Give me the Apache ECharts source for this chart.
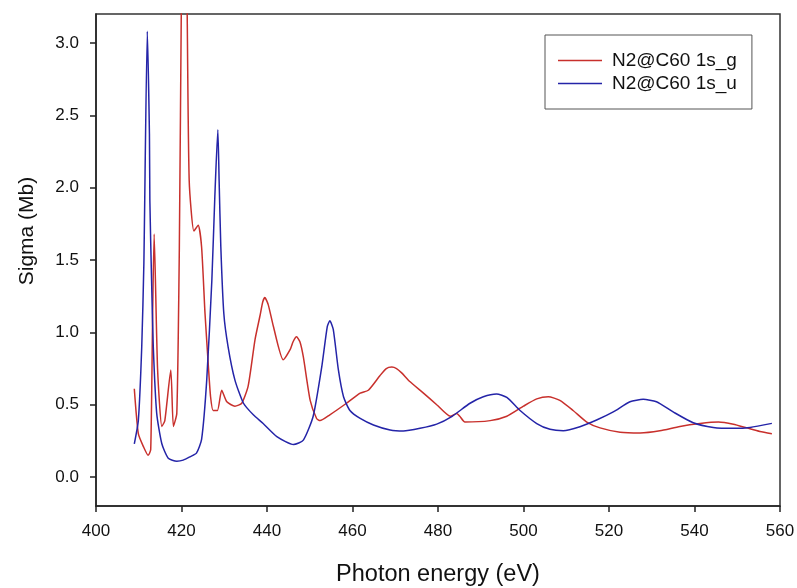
<!DOCTYPE html>
<html>
<head>
<meta charset="utf-8">
<script src="https://cdn.jsdelivr.net/npm/echarts@6/dist/echarts.min.js"></script>
<style>
html,body{margin:0;padding:0;background:#fff;}
#chart{width:797px;height:588px;}
</style>
</head>
<body>
<div id="chart"></div>
<script>
// ---- data ----
const seriesNames = ['N2@C60 1s_g', 'N2@C60 1s_u'];

const energyG = [408.96,409.9,411.1,412.2,412.8,413.25,413.6,414.4,415.4,416.1,417.5,418.1,418.9,419.5,420.0,420.6,421.3,421.8,422.9,423.9,424.7,425.5,426.3,426.8,427.4,428.4,429.4,430.6,432.5,434.1,435.6,437.2,438.4,439.0,439.5,440.3,441.5,443.8,445.4,446.1,446.9,447.7,448.5,450.1,451.6,452.4,454.7,458.6,461.8,463.7,466.4,467.9,469.2,470.3,471.5,473.4,476.6,479.7,482.9,484.4,485.1,486.3,492.2,496.1,500.0,503.1,505.8,508.5,511.6,514.8,517.9,522.6,527.3,531.9,536.6,541.3,545.6,549.1,552.2,555.3,558.1];
const sigmaG  = [0.61,0.30,0.21,0.15,0.19,1.13,1.68,0.75,0.35,0.39,0.74,0.35,0.44,1.6,3.4,5.0,3.3,2.05,1.70,1.74,1.59,1.13,0.76,0.555,0.46,0.46,0.60,0.52,0.49,0.51,0.63,0.95,1.12,1.21,1.24,1.19,1.04,0.81,0.88,0.935,0.97,0.935,0.83,0.53,0.405,0.39,0.43,0.51,0.58,0.60,0.70,0.75,0.76,0.75,0.72,0.66,0.58,0.50,0.42,0.44,0.42,0.38,0.39,0.42,0.49,0.54,0.555,0.53,0.46,0.38,0.34,0.31,0.305,0.32,0.35,0.37,0.38,0.365,0.34,0.315,0.30];

const energyU = [408.96,409.9,410.7,411.2,412.0,412.5,412.6,413.0,413.4,414.2,415.4,416.9,418.9,420.4,422.0,423.5,424.7,425.9,427.1,427.8,428.5,428.8,429.2,429.9,430.9,432.5,434.5,436.8,439.1,442.3,446.2,448.5,450.8,452.8,454.1,454.7,455.5,456.7,457.9,459.4,461.8,464.9,468.8,471.9,475.8,479.7,483.3,487.5,490.6,493.7,496.1,499.2,503.1,506.2,509.3,513.2,517.1,521.0,524.9,528.0,531.1,535.0,539.7,544.4,549.1,553.0,558.1];
const sigmaU  = [0.23,0.39,0.90,1.48,3.08,2.37,1.91,1.36,0.90,0.44,0.23,0.13,0.11,0.117,0.14,0.165,0.26,0.67,1.36,1.94,2.40,2.05,1.59,1.13,0.90,0.67,0.51,0.43,0.37,0.28,0.225,0.255,0.42,0.76,1.04,1.08,1.02,0.74,0.555,0.46,0.405,0.36,0.325,0.318,0.337,0.366,0.42,0.51,0.555,0.574,0.55,0.46,0.37,0.33,0.32,0.348,0.394,0.45,0.52,0.537,0.52,0.45,0.375,0.343,0.337,0.343,0.371];

const xTicks = [400,420,440,460,480,500,520,540,560];
const yTicks = [0.0,0.5,1.0,1.5,2.0,2.5,3.0];
const xTitle = 'Photon energy (eV)';
const yTitle = 'Sigma (Mb)';

// ---- chart ----
const FONT = 'Liberation Sans, Arial, sans-serif';
const pair = (xs, ys) => xs.map((x, i) => [x, ys[i]]);

const chart = echarts.init(document.getElementById('chart'), null, {renderer: 'canvas'});
chart.setOption({
  backgroundColor: '#ffffff',
  animation: false,
  grid: {
    left: 96, right: 17, top: 14, bottom: 82,
    show: true, borderColor: '#333', borderWidth: 1.5,
    containLabel: false, outerBoundsMode: 'none'
  },
  legend: {
    left: 545, top: 35, orient: 'vertical',
    itemWidth: 44, itemHeight: 19, itemGap: 4,
    padding: [16, 15, 16, 13],
    borderColor: '#555', borderWidth: 1,
    icon: 'path://M0,0L44,0L44,1.5L0,1.5Z',
    textStyle: {fontFamily: FONT, fontSize: 19, color: '#111', padding: [0, 0, 0, 5]},
    data: seriesNames
  },
  xAxis: {
    type: 'value', min: xTicks[0], max: xTicks[xTicks.length - 1], interval: 20,
    name: xTitle, nameLocation: 'middle', nameGap: 57,
    nameTextStyle: {fontFamily: FONT, fontSize: 23.5, color: '#111'},
    axisLine: {show: true, onZero: false, lineStyle: {color: '#222', width: 1.5}},
    axisTick: {show: true, inside: false, length: 6, lineStyle: {color: '#222', width: 1.5}},
    axisLabel: {fontFamily: FONT, fontSize: 17, color: '#111', margin: 17},
    splitLine: {show: false}
  },
  yAxis: {
    type: 'value', min: -0.2, max: 3.2,
    name: yTitle, nameLocation: 'middle', nameGap: 58, nameRotate: 90,
    nameTextStyle: {fontFamily: FONT, fontSize: 21, color: '#111', padding: [0, 0, 0, 58]},
    axisLine: {show: true, onZero: false, lineStyle: {color: '#222', width: 1.5}},
    axisTick: {show: true, inside: false, length: 6, lineStyle: {color: '#222', width: 1.5}, customValues: yTicks},
    axisLabel: {fontFamily: FONT, fontSize: 17, color: '#111', margin: 17, customValues: yTicks,
      formatter: v => Number(v).toFixed(1)},
    splitLine: {show: false}
  },
  series: [
    {
      name: seriesNames[0], type: 'line', data: pair(energyG, sigmaG),
      showSymbol: false, symbol: 'none', smooth: 0.2, clip: true,
      color: '#c8302c', lineStyle: {color: '#c8302c', width: 1.5}
    },
    {
      name: seriesNames[1], type: 'line', data: pair(energyU, sigmaU),
      showSymbol: false, symbol: 'none', smooth: 0.2, clip: true,
      color: '#2424a8', lineStyle: {color: '#2424a8', width: 1.5}
    }
  ]
});
</script>
</body>
</html>
